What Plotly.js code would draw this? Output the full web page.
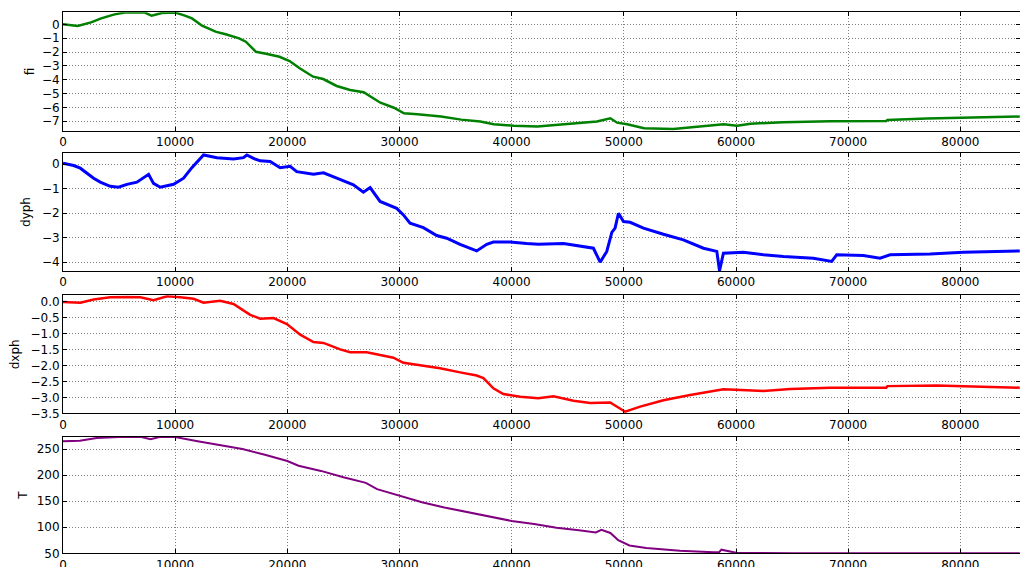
<!DOCTYPE html>
<html>
<head>
<meta charset="utf-8">
<script src="https://cdn.plot.ly/plotly-3.0.1.min.js"></script>
<style>html,body{margin:0;padding:0;background:#fff;}#chart{width:1020px;height:567px;}</style>
</head>
<body>
<div id="chart"></div>
<script>
// fi series
const fiX = [0,1300,2500,3400,4600,5500,7300,7900,8800,10000,10800,11500,12400,13600,14500,15700,16300,17200,18100,19300,20200,21100,22300,23200,24400,25600,26800,27400,28300,29500,30400,31600,33700,35500,37200,38400,40200,42300,44600,47600,48800,49400,50300,51800,54400,55900,58900,60100,61300,64200,68400,73400,73500,77000,80300,85300];
const fiY = [0,-0.12,0.14,0.43,0.72,0.85,0.85,0.62,0.82,0.85,0.65,0.43,-0.1,-0.53,-0.72,-1.01,-1.25,-1.98,-2.12,-2.34,-2.65,-3.17,-3.78,-3.95,-4.45,-4.74,-4.9,-5.22,-5.66,-6.02,-6.42,-6.5,-6.66,-6.88,-7.02,-7.22,-7.32,-7.37,-7.22,-7.02,-6.78,-7.1,-7.22,-7.5,-7.55,-7.45,-7.22,-7.32,-7.17,-7.07,-7.0,-6.98,-6.9,-6.8,-6.76,-6.66];

// dyph series
const dyX = [0,950,1540,2730,3320,4210,4950,5700,6590,7630,8070,8670,9860,10750,11490,12530,13720,15200,16090,16390,16980,17580,18470,19360,20250,20840,22330,23220,24410,25890,26780,27380,28270,29750,30350,30940,32130,33320,34210,35400,36880,37780,38370,39860,41340,42380,44620,46100,47290,47890,48480,48930,49220,49520,49970,50560,51750,53530,55310,57100,58290,58530,58880,60670,62450,64230,66900,68530,68980,71360,72840,73730,77300,80270,85300];
const dyY = [0.04,-0.05,-0.16,-0.57,-0.73,-0.9,-0.94,-0.82,-0.73,-0.41,-0.78,-0.94,-0.82,-0.57,-0.14,0.38,0.27,0.22,0.27,0.38,0.24,0.14,0.11,-0.14,-0.08,-0.3,-0.41,-0.35,-0.57,-0.84,-1.14,-0.95,-1.52,-1.8,-2.07,-2.41,-2.59,-2.91,-3.02,-3.27,-3.54,-3.27,-3.18,-3.18,-3.24,-3.27,-3.24,-3.35,-3.43,-4.0,-3.56,-2.78,-2.61,-2.0,-2.34,-2.37,-2.61,-2.86,-3.09,-3.43,-3.56,-4.35,-3.63,-3.59,-3.7,-3.77,-3.84,-3.97,-3.7,-3.73,-3.84,-3.7,-3.67,-3.59,-3.54];

// dxph series
const dxX = [0,1540,2730,4210,5700,6890,8070,9270,10450,11640,12530,14010,15200,16690,17580,18770,19960,21150,22330,23220,24710,25600,27080,28270,29460,30350,31840,33620,35400,36880,37480,38370,39260,40750,42380,43730,45510,47000,48780,50120,51460,53530,55910,58880,60960,62450,64830,68390,73400,73500,77890,81750,85300];
const dxY = [-0.02,-0.04,0.06,0.13,0.14,0.13,0.04,0.16,0.13,0.08,-0.04,0.02,-0.08,-0.42,-0.54,-0.52,-0.71,-1.04,-1.27,-1.3,-1.5,-1.59,-1.59,-1.67,-1.76,-1.92,-1.99,-2.09,-2.22,-2.32,-2.4,-2.72,-2.9,-2.98,-3.03,-2.97,-3.11,-3.18,-3.16,-3.45,-3.29,-3.09,-2.93,-2.75,-2.78,-2.8,-2.74,-2.7,-2.7,-2.65,-2.63,-2.66,-2.7];

// T series
const tX = [0,1500,3000,5000,7000,7800,8600,10000,12000,14000,16000,18000,20000,21000,23000,25000,27000,28000,30000,32000,34000,36000,38000,40000,42000,44000,46000,47500,48000,48800,49500,50500,52000,55000,58000,58500,58700,60000,65000,70000,85300];
const tY = [265,266,271,273,273,269,273,273,265,258,250,239,227,218,208,196,185,173,160,148,138,129,121,112,106,99,94,90,95,89,75,65,60,55,52,52,57,51,50,50,50];

const xTicks = [0,10000,20000,30000,40000,50000,60000,70000,80000];
const labels = ['fi','dyph','dxph','T'];

const H = 567;
const dom = (top, bot) => [1 - bot / H, 1 - top / H];
const font = {family: 'DejaVu Sans, sans-serif', size: 12, color: '#000'};
const gridCol = 'rgba(0,0,0,0.5)';
const gridDash = '1px,2px';

function xax(anchor) {
  return {
    anchor: anchor, range: [0, 85320], tickvals: xTicks, ticktext: xTicks.map(String),
    showline: true, mirror: 'ticks', linecolor: '#000', linewidth: 1,
    ticks: 'inside', ticklen: 4, tickcolor: '#000',
    showgrid: true, gridcolor: gridCol, griddash: gridDash, gridwidth: 1,
    zeroline: false, tickfont: font, automargin: false
  };
}
function yax(anchor, domain, range, dtick, fmt, title, standoff) {
  return {
    anchor: anchor, domain: domain, range: range, dtick: dtick, tick0: 0, tickformat: fmt,
    showline: true, mirror: 'ticks', linecolor: '#000', linewidth: 1,
    ticks: 'inside', ticklen: 4, tickcolor: '#000',
    showgrid: true, gridcolor: gridCol, griddash: gridDash, gridwidth: 1,
    zeroline: false, tickfont: font, automargin: false,
    title: {text: title, font: font, standoff: standoff}
  };
}

const traces = [
  {x: fiX, y: fiY, xaxis: 'x', yaxis: 'y', mode: 'lines', line: {color: '#008000', width: 2.5}},
  {x: dyX, y: dyY, xaxis: 'x2', yaxis: 'y2', mode: 'lines', line: {color: '#0000ff', width: 3}},
  {x: dxX, y: dxY, xaxis: 'x3', yaxis: 'y3', mode: 'lines', line: {color: '#ff0000', width: 2.5}},
  {x: tX, y: tY, xaxis: 'x4', yaxis: 'y4', mode: 'lines', line: {color: '#800080', width: 2}}
];

const layout = {
  width: 1020, height: 567, showlegend: false,
  margin: {l: 63, r: 0, t: 0, b: 0, pad: 0},
  paper_bgcolor: '#fff', plot_bgcolor: '#fff', font: font,
  xaxis: xax('y'), xaxis2: xax('y2'), xaxis3: xax('y3'), xaxis4: xax('y4'),
  yaxis: yax('x', dom(12.3, 130.7), [-7.68, 0.87], 1, 'd', labels[0], 4),
  yaxis2: yax('x2', dom(153, 271), [-4.36, 0.46], 1, 'd', labels[1], 8),
  yaxis3: yax('x3', dom(295.3, 413.3), [-3.5, 0.19], 0.5, '.1f', labels[2], 8),
  yaxis4: yax('x4', dom(436.7, 553.3), [50, 273.6], 50, 'd', labels[3], 6)
};

Plotly.newPlot('chart', traces, layout, {staticPlot: true, displayModeBar: false});
</script>
</body>
</html>
